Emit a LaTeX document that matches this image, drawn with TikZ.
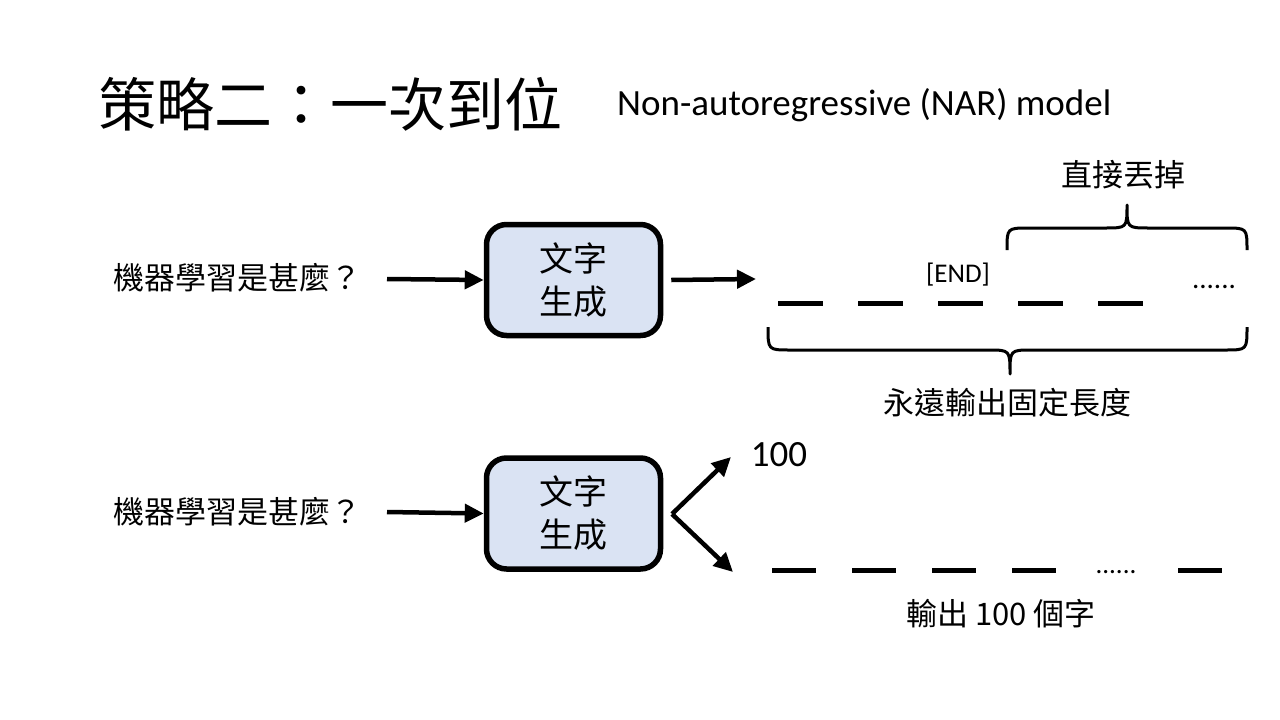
\documentclass[tikz,border=0pt]{standalone}
\usepackage{fontspec}
\setmainfont{Carlito}
\newfontfamily\cjk{Noto Sans CJK TC}
\usetikzlibrary{arrows.meta}
\begin{document}
\begin{tikzpicture}[x=1pt,y=-1pt,
  arr/.style={line width=4.5pt,-{Triangle[length=19pt,width=18pt]}},
  genbox/.style={draw=black,line width=5.5pt,fill=boxblue,rounded corners=20pt,
    minimum width=174pt,minimum height=111pt,align=center,inner sep=0pt,
    font=\cjk\fontsize{34}{43}\selectfont},
  cjktext/.style={inner sep=0pt,font=\cjk\fontsize{31}{36}\selectfont},
  dashseg/.style={line width=5pt},
  bracepath/.style={line width=3pt,line join=round}]
\definecolor{boxblue}{HTML}{DAE3F3}
\useasboundingbox[fill=white] (0,0) rectangle (1280,720);

% title
\node[anchor=west,inner sep=0pt,font=\cjk\fontsize{58}{64}\selectfont] (title) at (98,104) {策略二：一次到位};
\node[anchor=west,inner sep=0pt,font=\fontsize{37}{42}\selectfont] (sub) at (617,105) {Non-autoregressive (NAR) model};

% row 1
\node[cjktext,anchor=west] (q1) at (113,278) {機器學習是甚麼？};
\node[genbox] (box1) at (573.5,280) {文字\\生成};
\coordinate (a1s) at (387,279);
\draw[arr] (a1s) -- (box1.west);
\coordinate (o1) at (756,279);
\draw[arr] (box1.east) ++(8,0) -- (o1);

\foreach \x in {778,858,938,1018,1098}
  \draw[dashseg] (\x,303) -- ++(45,0);
\node[inner sep=0pt,font=\fontsize{27}{30}\selectfont] (endtok) at (958,275) {[END]};
\node[inner sep=0pt,anchor=base,font=\fontsize{29}{30}\selectfont] (dots1) at (1214,288) {......};

% upper brace
\draw[bracepath] (1007,250) .. controls (1007,228) and (1007,228) .. (1029,228)
  -- (1105,228) .. controls (1127,228) and (1127,228) .. (1127,205)
  .. controls (1127,228) and (1127,228) .. (1149,228)
  -- (1225,228) .. controls (1247,228) and (1247,228) .. (1247,250);
\node[cjktext] (drop) at (1123,175) {直接丟掉};

% lower brace
\draw[bracepath] (768,327) .. controls (768,350) and (768,350) .. (790,350)
  -- (988,350) .. controls (1010,350) and (1010,350) .. (1010,374)
  .. controls (1010,350) and (1010,350) .. (1032,350)
  -- (1225,350) .. controls (1247,350) and (1247,350) .. (1247,327);
\node[cjktext] (fixed) at (1007,403) {永遠輸出固定長度};

% row 2
\node[cjktext,anchor=west] (q2) at (113,512) {機器學習是甚麼？};
\node[genbox] (box2) at (573.5,513.5) {文字\\生成};
\coordinate (a2s) at (387,512);
\draw[arr] (a2s) -- (box2.west);
\coordinate (apex) at (672,514);
\coordinate (up) at (731,457);
\coordinate (down) at (733,572);
\draw[arr] (apex) -- (up);
\draw[arr] (apex) -- (down);
\node[inner sep=0pt,font=\fontsize{37}{42}\selectfont] (hundred) at (779,455) {100};

\foreach \x in {772,852,932,1012,1178}
  \draw[dashseg] (\x,570) -- ++(44,0);
\node[inner sep=0pt,anchor=base,font=\fontsize{27}{30}\selectfont] (dots2) at (1116,573) {......};
\node[cjktext] (out100) at (1001,614) {輸出 100 個字};
\end{tikzpicture}
\end{document}
